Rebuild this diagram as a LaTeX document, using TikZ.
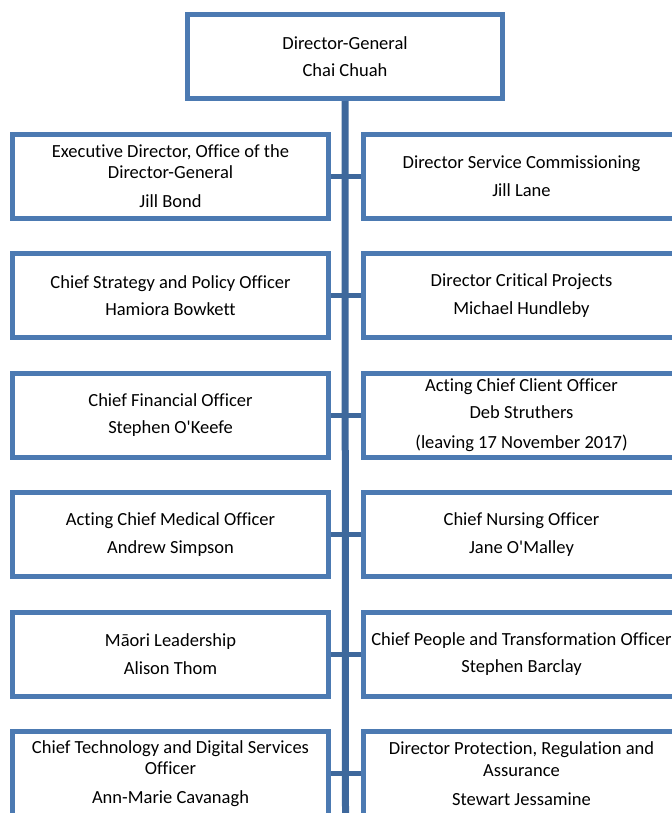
\documentclass[tikz,border=0pt]{standalone}
\usepackage{fontspec}
\setmainfont{Carlito}[Ligatures={TeXOff,CommonOff}]
\definecolor{boxcol}{RGB}{76,122,178}
\definecolor{linecol}{RGB}{62,104,156}
\begin{document}
\begin{tikzpicture}[x=1bp,y=-1bp,
  box/.style={draw=boxcol, line width=5bp, fill=white, rectangle,
    minimum width=316bp, minimum height=84bp, inner sep=0pt, align=center,
    font=\fontsize{18.5bp}{21.5bp}\selectfont, text=black},
  topbox/.style={box, minimum width=315bp},
  trunk/.style={draw=linecol, line width=7bp},
  stub/.style={draw=linecol, line width=5bp}]
\useasboundingbox (0,0) rectangle (672,813);
\node[topbox] (top) at (345,56.5) {Director-General\\[6bp]Chai Chuah};
\node[box] (l1) at (170.5,176) {Executive Director, Office of the\\Director-General\\[7.5bp]Jill Bond};
\node[box] (r1) at (521.5,176) {Director Service Commissioning\\[6bp]Jill Lane};
\node[box] (l2) at (170.5,295.5) {Chief Strategy and Policy Officer\\[6bp]Hamiora Bowkett};
\node[box] (r2) at (521.5,295.5) {Director Critical Projects\\[6bp]Michael Hundleby};
\node[box] (r3) at (521.5,415) {Acting Chief Client Officer\\[6bp]Deb Struthers\\[8bp](leaving 17 November 2017)};
\node[box] (l3) at (170.5,415) {Chief Financial Officer\\[6bp]Stephen O'Keefe};
\node[box] (l4) at (170.5,534.5) {Acting Chief Medical Officer\\[6bp]Andrew Simpson};
\node[box] (r4) at (521.5,534.5) {Chief Nursing Officer\\[6bp]Jane O'Malley};
\node[box] (l5) at (170.5,654) {Māori Leadership\\[6bp]Alison Thom};
\node[box] (r5) at (521.5,654) {Chief People and Transformation Officer\\[6bp]Stephen Barclay};
\node[box] (l6) at (170.5,773.5) {Chief Technology and Digital Services\\Officer\\[7.5bp]Ann-Marie Cavanagh};
\node[box] (r6) at (521.5,773.5) {Director Protection, Regulation and\\Assurance\\[7.5bp]Stewart Jessamine};
\coordinate (bot) at (345.5,813);
\draw[trunk] (top.south) -- (bot);
\foreach \i in {1,...,6} {\draw[stub] (l\i.east) -- (r\i.west);}
\end{tikzpicture}
\end{document}
